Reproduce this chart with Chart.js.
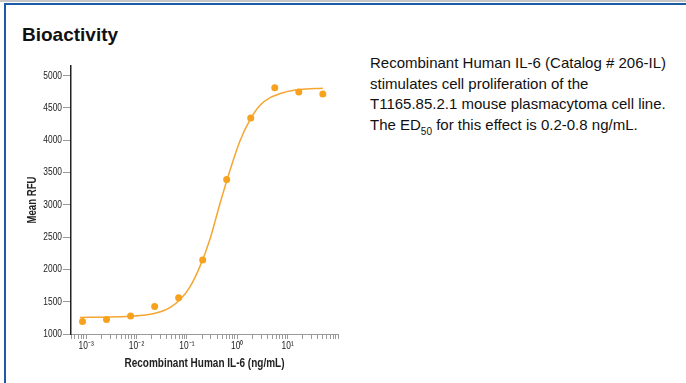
<!DOCTYPE html>
<html>
<head>
<meta charset="utf-8">
<script src="https://cdn.jsdelivr.net/npm/chart.js@4/dist/chart.umd.min.js"></script>
<style>
    html, body { margin: 0; padding: 0; background: #fff; width: 686px; height: 383px; overflow: hidden; font-family: "Liberation Sans", Arial, sans-serif; }
    #topline { position: absolute; left: 0; top: 0; width: 686px; height: 2px; background: #c6c6c6; }
    #frame { position: absolute; left: 4px; top: 3px; width: 700px; height: 400px; border-left: 2px solid #1b5aa6; border-top: 2px solid #1b5aa6; }
    #title { position: absolute; left: 22px; top: 24px; font-weight: bold; font-size: 19px; color: #111; }
    #desc { position: absolute; left: 370px; top: 53px; font-size: 15px; line-height: 20.5px; color: #111; white-space: nowrap; }
    #desc sub { font-size: 10px; vertical-align: -5px; line-height: 0; }
    #wrap { position: absolute; left: 0; top: 0; width: 360px; height: 383px; }
</style>
</head>
<body>
<div id="topline"></div>
<div id="frame"></div>
<div id="title">Bioactivity</div>
<div id="desc">
    Recombinant Human IL-6 (Catalog # 206-IL)<br>
    stimulates cell proliferation of the<br>
    T1165.85.2.1 mouse plasmacytoma cell line.<br>
    The ED<sub>50</sub> for this effect is 0.2-0.8 ng/mL.
</div>
<div id="wrap"><canvas id="grafico" width="360" height="383"></canvas></div>
<script>
// Puntos medidos (ng/mL, 3 veces dilución)
const concentrations = [50, 16.67, 5.556, 1.852, 0.617, 0.206, 0.0686, 0.0229, 0.00762, 0.00254, 0.000847];
const meanRFU = [4717, 4748, 4814, 4346, 3391, 2145, 1561, 1425, 1278, 1226, 1195];

// Curva ajustada
const fitConc = [0.00075, 0.003, 0.0075, 0.015, 0.03, 0.046, 0.073, 0.115, 0.18, 0.29, 0.45, 0.72, 1.13, 1.8, 2.8, 4.5, 8.8, 17.6, 50];
const fitRFU = [1257, 1262, 1275, 1295, 1345, 1410, 1530, 1730, 2040, 2480, 3010, 3540, 3990, 4320, 4540, 4660, 4745, 4785, 4805];

// Ejes
const yTicks = [1000, 1500, 2000, 2500, 3000, 3500, 4000, 4500, 5000];
const xMajorTicks = [0.001, 0.01, 0.1, 1, 10];
const xTickLabels = ['10\u207B\u00B3', '10\u207B\u00B2', '10\u207B\u00B9', '10\u2070', '10\u00B9'];

const orange = '#f6a21e';
const narrow = '"Liberation Sans", Arial, sans-serif';

// marcas menores del eje logarítmico
const xAllTicks = [];
for (let e = -4; e <= 1; e++) {
    for (let k = 1; k <= 9; k++) {
        const v = k * Math.pow(10, e);
        if (v >= 0.0005 && v <= 100) xAllTicks.push(v);
    }
}
xAllTicks.push(100);

const majorLabel = (v) => {
    const i = xMajorTicks.findIndex(m => Math.abs(m - v) / m < 1e-6);
    return i >= 0 ? xTickLabels[i] : '';
};

// Texto condensado (el original usa una fuente estrecha): escala horizontal al pintar
const condensedText = {
    id: 'condensedText',
    beforeDraw(chart) {
        const ctx = chart.ctx;
        if (ctx._narrow) return;
        const fill = ctx.fillText.bind(ctx);
        ctx.fillText = (text, x, y) => {
            ctx.save();
            ctx.translate(x, y);
            ctx.scale(0.8, 1);
            fill(text, 0, 0);
            ctx.restore();
        };
        ctx._narrow = true;
    }
};

const myChart = new Chart('grafico', {
    data: {
        datasets: [{
            type: 'scatter',
            label: 'Mean RFU',
            data: concentrations.map((c, i) => ({x: c, y: meanRFU[i]})),
            backgroundColor: orange,
            borderColor: orange,
            pointRadius: 3.5,
            pointBorderWidth: 0,
            order: 0
        }, {
            type: 'line',
            label: 'Fit',
            data: fitConc.map((c, i) => ({x: c, y: fitRFU[i]})),
            borderColor: '#f5a632',
            borderWidth: 1.5,
            pointRadius: 0,
            fill: false,
            cubicInterpolationMode: 'monotone',
            order: 1
        }]
    },
    plugins: [condensedText],
    options: {
        responsive: false,
        animation: false,
        devicePixelRatio: 1,
        layout: { padding: { left: 10, top: 66, right: 22, bottom: 9 } },
        plugins: {
            legend: { display: false },
            tooltip: { enabled: false }
        },
        scales: {
            x: {
                type: 'logarithmic',
                min: 0.0005,
                max: 100,
                afterBuildTicks: (scale) => {
                    scale.ticks = xAllTicks.map(v => ({value: v}));
                },
                afterFit: (scale) => { scale.height = 40; },
                ticks: {
                    autoSkip: false,
                    maxRotation: 0,
                    padding: 1,
                    color: '#222',
                    font: { family: narrow, size: 10.5 },
                    callback: (v) => majorLabel(v)
                },
                grid: {
                    drawOnChartArea: false,
                    tickLength: 5,
                    tickColor: '#9a9a9a'
                },
                border: { color: '#9a9a9a', width: 1 },
                title: {
                    display: true,
                    text: 'Recombinant Human IL-6 (ng/mL)',
                    color: '#222',
                    font: { family: narrow, size: 12.5, weight: 'bold' },
                    padding: { top: 0, bottom: 3 }
                }
            },
            y: {
                type: 'linear',
                min: 1000,
                max: 5150,
                afterBuildTicks: (scale) => {
                    scale.ticks = yTicks.map(v => ({value: v}));
                },
                afterFit: (scale) => { scale.width = 61; },
                ticks: {
                    padding: 1,
                    color: '#222',
                    font: { family: narrow, size: 10.5 },
                    callback: (v) => String(v)
                },
                grid: {
                    drawOnChartArea: false,
                    tickLength: 8,
                    tickColor: '#9a9a9a'
                },
                border: { color: '#222', width: 1.5 },
                title: {
                    display: true,
                    text: 'Mean RFU',
                    color: '#222',
                    font: { family: narrow, size: 12, weight: 'bold' },
                    padding: { top: 15, bottom: 0 }
                }
            }
        }
    }
});
</script>
</body>
</html>
